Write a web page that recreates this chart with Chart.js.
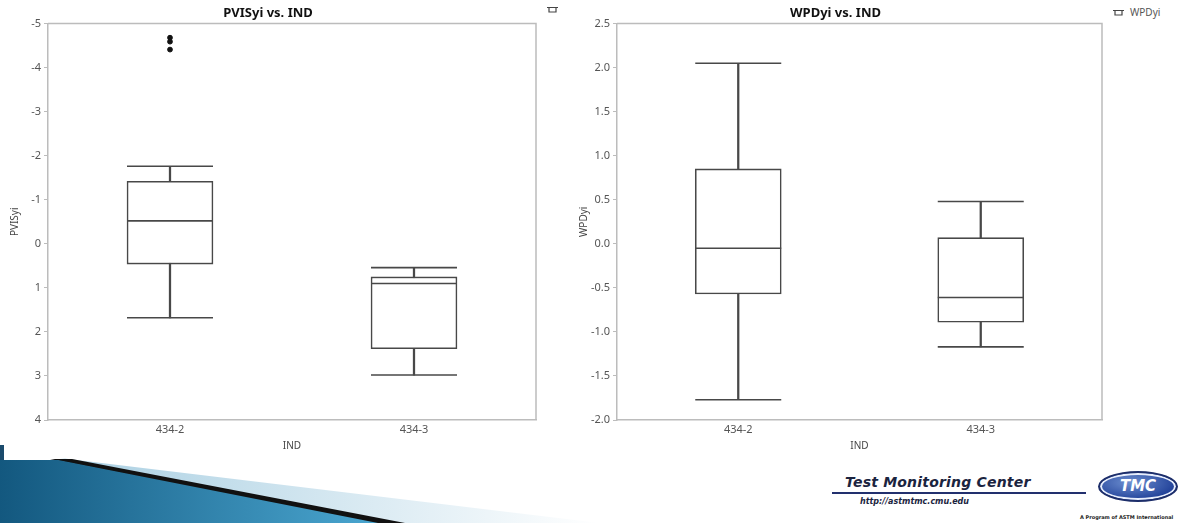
<!DOCTYPE html>
<html lang="en">
<head>
<meta charset="UTF-8" />
<title>PVISyi / WPDyi vs. IND</title>
<script src="https://cdn.jsdelivr.net/npm/chart.js@4"></script>
<style>
  body { margin: 0; width: 1189px; height: 523px; background: #fff; position: relative; overflow: hidden; font-family: "Noto Sans", "Open Sans", sans-serif; }
  .chart { position: absolute; top: 0; height: 456px; }
  .legend { position: absolute; top: 5px; font-size: 10px; color: #555; display: flex; align-items: center; gap: 6px; }
  .logo-title { position: absolute; left: 845px; top: 474px; font: italic 900 14px "DejaVu Sans", sans-serif; color: #1b2440; letter-spacing: 0.2px; }
  .logo-line { position: absolute; left: 832px; top: 492px; width: 254px; height: 2px; background: #22306e; }
  .logo-url { position: absolute; left: 860px; top: 497px; font: italic bold 8px "DejaVu Sans", sans-serif; color: #1b2440; }
  .oval { position: absolute; left: 1098px; top: 471px; width: 76px; height: 27px; border-radius: 50%; background: radial-gradient(ellipse at 40% 35%, #6d8fd0, #23439a 70%); border: 2px solid #1d2e6a; box-shadow: inset 0 0 0 2px #e8eefc; color: #fff; font: italic 900 15px "DejaVu Sans", sans-serif; text-align: center; line-height: 27px; }
  .oval-sub { position: absolute; left: 1080px; top: 514px; font: bold 5px "DejaVu Sans", sans-serif; color: #222; white-space: nowrap; }
</style>
</head>
<body>
  <div class="chart" style="left:0;width:540px"><canvas id="pvis"></canvas></div>
  <div class="chart" style="left:569px;width:537px"><canvas id="wpd"></canvas></div>

  <div class="legend" style="left:547px">
    <svg width="11" height="8"><path d="M0 2.5H11M2 2.5V7H9V2.5" fill="none" stroke="#444" stroke-width="1.2"/></svg>
  </div>
  <div class="legend" style="left:1113px">
    <svg width="11" height="8"><path d="M0 2.5H11M2 2.5V7H9V2.5" fill="none" stroke="#444" stroke-width="1.2"/></svg>
    <span>WPDyi</span>
  </div>

  <!-- slide decoration -->
  <svg style="position:absolute;left:0;top:440px" width="620" height="83">
    <defs>
      <linearGradient id="wedge" x1="0" x2="1" y1="0" y2="0">
        <stop offset="0" stop-color="#13587f" />
        <stop offset="1" stop-color="#4aa6d0" />
      </linearGradient>
      <linearGradient id="fade" x1="0" x2="1" y1="0" y2="0">
        <stop offset="0" stop-color="#a9cfe2" />
        <stop offset="1" stop-color="#ffffff" />
      </linearGradient>
    </defs>
    <rect x="0" y="5" width="4" height="18" fill="#1b4b6c" />
    <polygon points="60,18 600,83 383,83" fill="url(#fade)" />
    <polygon points="50,19 72,19 405,83 370,83" fill="#111" />
    <polygon points="0,20 58,20 378,83 0,83" fill="url(#wedge)" />
  </svg>

  <div class="logo-title">Test Monitoring Center</div>
  <div class="logo-line"></div>
  <div class="logo-url">http://astmtmc.cmu.edu</div>
  <div class="oval">TMC</div>
  <div class="oval-sub">A Program of ASTM International</div>

  <script>
    const categories = ['434-2', '434-3'];

    // PVISyi box plot values (axis is reversed in the chart)
    const pvisLow = [-1.76, 0.54];
    const pvisQ1 = [-1.42, 0.75];
    const pvisMedian = [-0.52, 0.90];
    const pvisQ3 = [0.46, 2.38];
    const pvisHigh = [1.68, 2.98];
    const pvisOutliers = [
      { x: '434-2', y: -4.68 },
      { x: '434-2', y: -4.59 },
      { x: '434-2', y: -4.41 },
    ];

    // WPDyi box plot values
    const wpdLow = [-1.77, -1.17];
    const wpdQ1 = [-0.57, -0.89];
    const wpdMedian = [-0.05, -0.61];
    const wpdQ3 = [0.85, 0.07];
    const wpdHigh = [2.05, 0.48];

    const LINE = '#484848';
    const AXIS = '#bcbcbc';

    // gray frame on the top and right of the plot area
    const framePlugin = {
      id: 'frame',
      beforeDatasetsDraw(chart) {
        const { ctx, chartArea: a } = chart;
        ctx.save();
        ctx.strokeStyle = AXIS;
        ctx.lineWidth = 1.5;
        ctx.beginPath();
        ctx.moveTo(a.left, a.top);
        ctx.lineTo(a.right, a.top);
        ctx.lineTo(a.right, a.bottom);
        ctx.stroke();
        ctx.restore();
      }
    };

    function markLine(data, order) {
      return {
        type: 'line',
        data: data,
        showLine: false,
        pointStyle: 'line',
        pointRadius: 43,
        pointHoverRadius: 43,
        pointBorderWidth: 1.6,
        pointBorderColor: LINE,
        order: order,
      };
    }

    function boxDatasets(low, q1, median, q3, high, outliers) {
      const sets = [
        {
          type: 'bar',
          data: low.map((v, i) => [v, high[i]]),
          backgroundColor: LINE,
          borderWidth: 0,
          barThickness: 1.6,
          grouped: false,
          order: 6,
        },
        {
          type: 'bar',
          data: q1.map((v, i) => [v, q3[i]]),
          backgroundColor: '#ffffff',
          borderColor: LINE,
          borderWidth: 1.6,
          borderSkipped: false,
          barThickness: 86,
          grouped: false,
          order: 5,
        },
        markLine(low, 2),
        markLine(high, 2),
        markLine(median, 2),
      ];

      if (outliers) {
        sets.push({
          type: 'line',
          data: outliers,
          showLine: false,
          pointStyle: 'circle',
          pointRadius: 2.4,
          pointBackgroundColor: '#111',
          pointBorderColor: '#111',
          order: 0,
        });
      }

      return sets;
    }

    function makeChart(id, title, yTitle, datasets, yOpts) {
      return new Chart(document.getElementById(id), {
        type: 'bar',
        data: { labels: categories, datasets: datasets },
        plugins: [framePlugin],
        options: {
          responsive: true,
          maintainAspectRatio: false,
          animation: false,
          events: [],
          layout: { autoPadding: false, padding: { right: 4 } },
          plugins: {
            legend: { display: false },
            tooltip: { enabled: false },
            title: {
              display: true,
              text: title,
              color: '#111',
              font: { family: '"Noto Sans", sans-serif', size: 13, weight: 'bold' },
              padding: { top: 5, bottom: 3 },
            },
          },
          scales: {
            x: {
              type: 'category',
              offset: true,
              grid: { display: false, drawTicks: false },
              border: { display: true, color: AXIS, width: 1.5 },
              ticks: { color: '#555', font: { size: 11 }, padding: 3 },
              title: { display: true, text: 'IND', color: '#444', font: { size: 10 }, padding: { top: 2, bottom: 4 } },
              afterFit: scale => { scale.height = 36; },
            },
            y: {
              min: yOpts.min,
              max: yOpts.max,
              reverse: yOpts.reverse,
              grid: { drawOnChartArea: false, tickLength: 4, color: AXIS, lineWidth: 1 },
              border: { display: true, color: AXIS, width: 1.5 },
              ticks: {
                stepSize: yOpts.step,
                color: '#555',
                font: { size: 11 },
                padding: 3,
                callback: yOpts.format,
              },
              title: { display: true, text: yTitle, color: '#444', font: { size: 10 }, padding: { top: 9, bottom: 0 } },
              afterFit: scale => { scale.width = 48; },
            },
          },
        },
      });
    }

    Chart.defaults.font.family = '"Noto Sans", "Open Sans", sans-serif';

    makeChart('pvis', 'PVISyi vs. IND', 'PVISyi',
      boxDatasets(pvisLow, pvisQ1, pvisMedian, pvisQ3, pvisHigh, pvisOutliers),
      { min: -5, max: 4, step: 1, reverse: true, format: v => String(v) });

    makeChart('wpd', 'WPDyi vs. IND', 'WPDyi',
      boxDatasets(wpdLow, wpdQ1, wpdMedian, wpdQ3, wpdHigh, null),
      { min: -2, max: 2.5, step: 0.5, reverse: false, format: v => v.toFixed(1) });
  </script>
</body>
</html>
